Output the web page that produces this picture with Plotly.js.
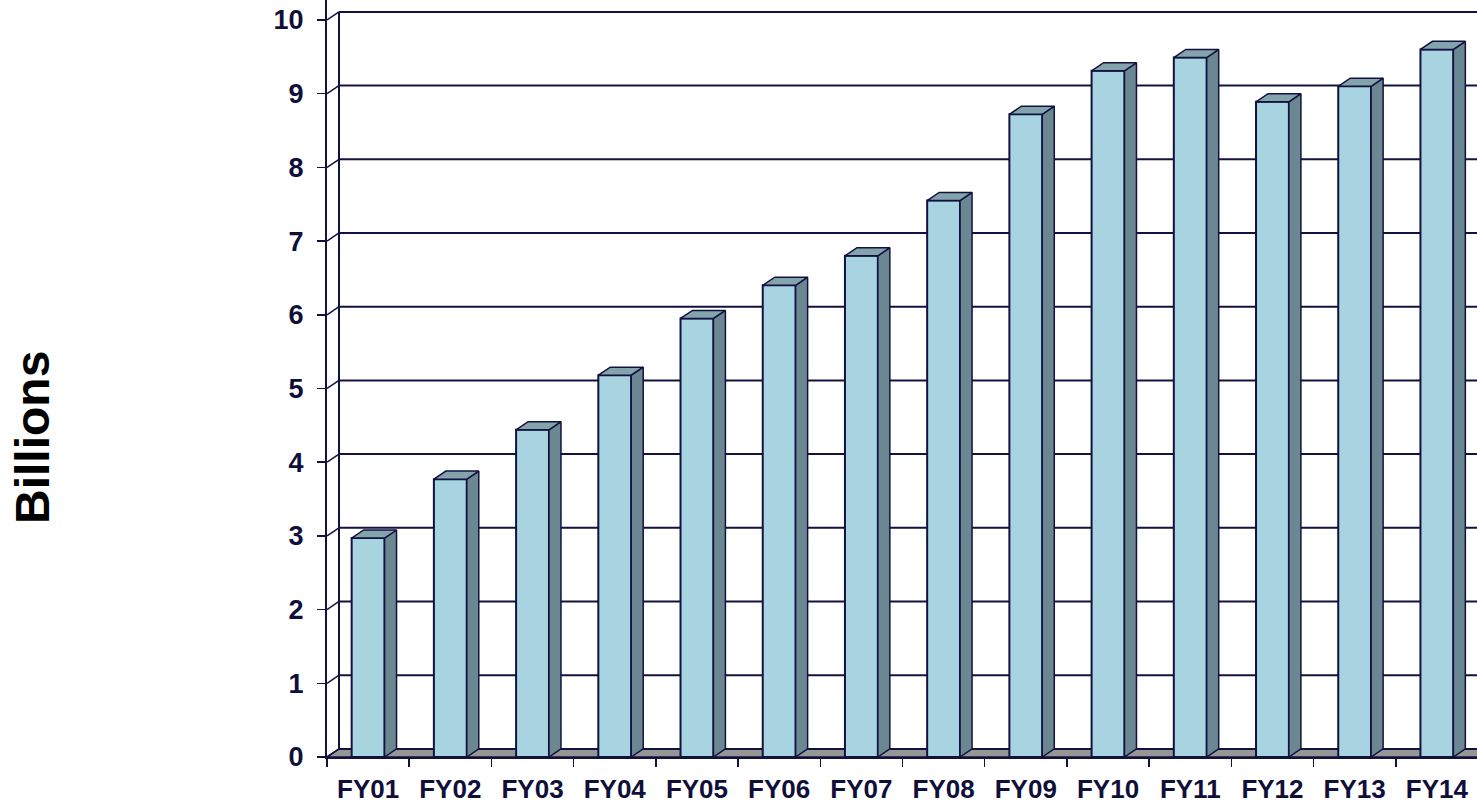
<!DOCTYPE html>
<html>
<head>
<meta charset="utf-8">
<script src="https://cdn.plot.ly/plotly-3.0.1.min.js"></script>
<style>
  html, body { margin: 0; padding: 0; overflow: hidden; background: #ffffff; }
  #chart { width: 1500px; height: 804px; }
</style>
</head>
<body>
<div id="chart"></div>
<script>
// Annual totals, in billions
const fiscalYears = ['FY01', 'FY02', 'FY03', 'FY04', 'FY05', 'FY06', 'FY07',
                     'FY08', 'FY09', 'FY10', 'FY11', 'FY12', 'FY13', 'FY14'];
const billions = [2.97, 3.77, 4.44, 5.18, 5.95, 6.40, 6.80,
                  7.55, 8.72, 9.31, 9.49, 8.89, 9.10, 9.60];
const yTickValues = [0, 1, 2, 3, 4, 5, 6, 7, 8, 9, 10];

// Pseudo-3D look: depth offset of the back plane, in axis units
const depthX = 0.146;   // category units
const depthY = 0.11;    // value units
const barWidth = 0.4;

const ink = '#12123f';
const frontColor = '#a8d3e0';
const sideColor = '#6b8791';
const topColor = '#83a3ad';
const floorColor = '#969696';

const idx = fiscalYears.map((_, i) => i);
const xMin = -0.5, xMax = fiscalYears.length - 0.5;

// Back wall, its grid lines and the floor, drawn beneath all bars
const shapes = [];
shapes.push({
  type: 'path', layer: 'below', xref: 'x', yref: 'y',
  path: `M ${xMin} 0 L ${xMax} 0 L ${xMax + depthX} ${depthY} L ${xMin + depthX} ${depthY} Z`,
  fillcolor: floorColor, line: { color: ink, width: 1.5 }
});
yTickValues.forEach(v => {
  shapes.push({
    type: 'line', layer: 'below', xref: 'x', yref: 'y',
    x0: xMin + depthX, x1: xMax + depthX, y0: v + depthY, y1: v + depthY,
    line: { color: ink, width: 2 }
  });
  shapes.push({
    type: 'line', layer: 'below', xref: 'x', yref: 'y',
    x0: xMin, x1: xMin + depthX, y0: v, y1: v + depthY,
    line: { color: ink, width: 1.5 }
  });
});
shapes.push({
  type: 'line', layer: 'below', xref: 'x', yref: 'y',
  x0: xMin + depthX, x1: xMin + depthX,
  y0: depthY, y1: yTickValues[yTickValues.length - 1] + depthY,
  line: { color: ink, width: 2 }
});

// Side and top faces of every column, one polygon per bar
const sideX = [], sideY = [], topX = [], topY = [];
billions.forEach((v, i) => {
  const l = i - barWidth / 2, r = i + barWidth / 2;
  sideX.push(r, r + depthX, r + depthX, r, r, null);
  sideY.push(0, depthY, v + depthY, v, 0, null);
  topX.push(l, r, r + depthX, l + depthX, l, null);
  topY.push(v, v, v + depthY, v + depthY, v, null);
});

const traces = [
  {
    type: 'bar', x: idx, y: billions, width: barWidth,
    marker: { color: frontColor, line: { color: ink, width: 2 } },
    hoverinfo: 'skip', showlegend: false
  },
  {
    type: 'scatter', mode: 'lines', x: sideX, y: sideY,
    fill: 'toself', fillcolor: sideColor,
    line: { color: ink, width: 1.5 },
    hoverinfo: 'skip', showlegend: false
  },
  {
    type: 'scatter', mode: 'lines', x: topX, y: topY,
    fill: 'toself', fillcolor: topColor,
    line: { color: ink, width: 1.5 },
    hoverinfo: 'skip', showlegend: false
  }
];

const tickFont = { family: 'Liberation Sans, Arial, sans-serif', size: 26, color: '#0f0f3a', weight: 'bold' };

const layout = {
  width: 1500, height: 804,
  margin: { l: 327, r: 22, t: 0, b: 47 },
  paper_bgcolor: '#ffffff', plot_bgcolor: '#ffffff',
  showlegend: false,
  xaxis: {
    type: 'linear', range: [xMin, xMax],
    tickmode: 'array', tickvals: idx, ticktext: fiscalYears,
    ticks: '', ticklabelstandoff: 8,
    tickfont: tickFont,
    showgrid: false, zeroline: false,
    showline: true, linecolor: ink, linewidth: 2,
    minor: { tickmode: 'linear', tick0: -0.5, dtick: 1, ticks: 'outside', ticklen: 8, tickwidth: 1.5, tickcolor: ink, showgrid: false },
    fixedrange: true
  },
  yaxis: {
    range: [0, 757 / 73.7],
    tickmode: 'array', tickvals: yTickValues,
    ticks: 'outside', ticklen: 8, tickwidth: 1.5, tickcolor: ink,
    ticklabelstandoff: 8,
    tickfont: { family: 'Liberation Sans, Arial, sans-serif', size: 27, color: '#0f0f3a', weight: 'bold' },
    showgrid: false, zeroline: false,
    showline: true, linecolor: ink, linewidth: 2,
    fixedrange: true
  },
  shapes: shapes,
  annotations: [{
    text: 'Billions', textangle: -90,
    xref: 'paper', yref: 'paper',
    x: (32 - 327) / 1151, y: (757 - 438) / 757,
    xanchor: 'center', yanchor: 'middle', showarrow: false,
    font: { family: 'Liberation Sans, Arial, sans-serif', size: 48, color: '#000000', weight: 'bold' }
  }]
};

Plotly.newPlot('chart', traces, layout, { displayModeBar: false, staticPlot: true });
</script>
</body>
</html>
